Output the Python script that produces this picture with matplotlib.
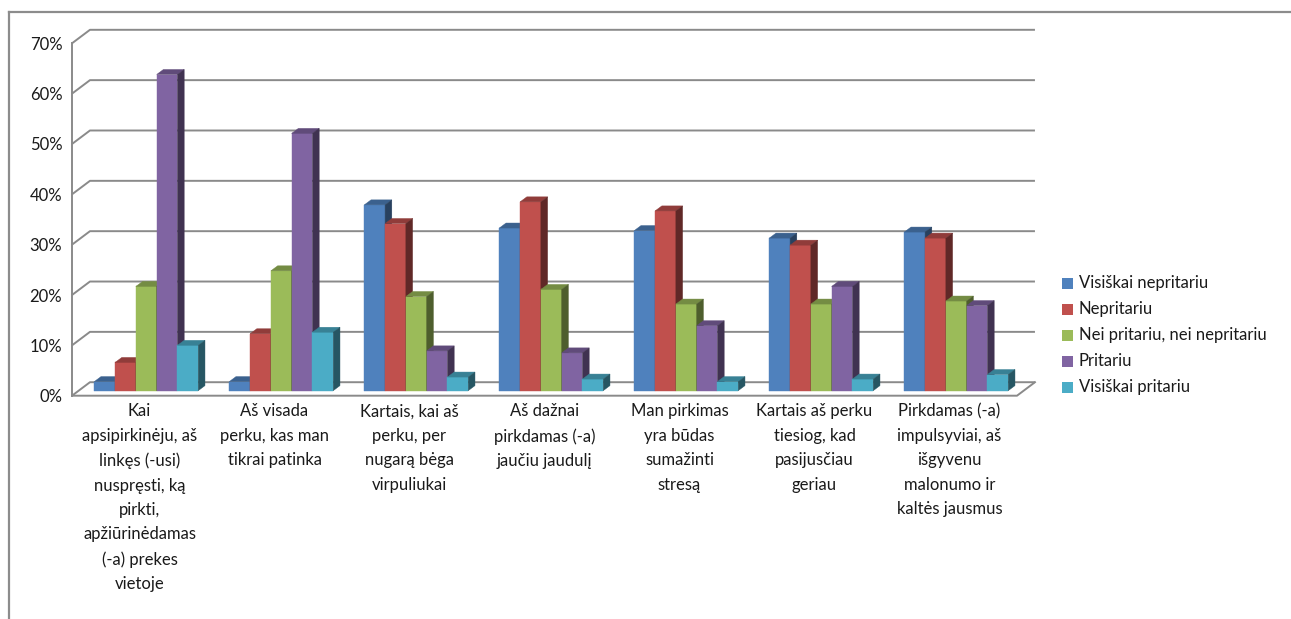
import numpy as np
import matplotlib.pyplot as plt
from matplotlib.patches import Polygon, Rectangle
from matplotlib.lines import Line2D
from matplotlib.colors import to_rgb

plt.rcParams['font.family'] = ['Lato', 'DejaVu Sans']

categories = [
    "Kai\napsipirkinėju, aš\nlinkęs (-usi)\nnuspręsti, ką\npirkti,\napžiūrinėdamas\n(-a) prekes\nvietoje",
    "Aš visada\nperku, kas man\ntikrai patinka",
    "Kartais, kai aš\nperku, per\nnugarą bėga\nvirpuliukai",
    "Aš dažnai\npirkdamas (-a)\njaučiu jaudulį",
    "Man pirkimas\nyra būdas\nsumažinti\nstresą",
    "Kartais aš perku\ntiesiog, kad\npasijusčiau\ngeriau",
    "Pirkdamas (-a)\nimpulsyviai, aš\nišgyvenu\nmalonumo ir\nkaltės jausmus",
]
series_names = ["Visiškai nepritariu", "Nepritariu", "Nei pritariu, nei nepritariu",
                "Pritariu", "Visiškai pritariu"]

visiskai_nepritariu = [1.8, 1.8, 36.9, 32.3, 31.8, 30.3, 31.5]
nepritariu = [5.6, 11.3, 33.2, 37.5, 35.7, 28.9, 30.3]
nei_nei = [20.7, 23.8, 18.7, 20.1, 17.2, 17.2, 17.8]
pritariu = [62.8, 51.1, 7.9, 7.5, 12.9, 20.7, 16.9]
visiskai_pritariu = [9.0, 11.6, 2.7, 2.3, 1.8, 2.3, 3.2]

series = [visiskai_nepritariu, nepritariu, nei_nei, pritariu, visiskai_pritariu]
colors = ["#4F81BD", "#C0504D", "#9BBB59", "#8064A2", "#4BACC6"]
yticks = [0, 10, 20, 30, 40, 50, 60, 70]

W, H = 1291, 619
fig = plt.figure(figsize=(W / 100, H / 100), dpi=100)
ax = fig.add_axes([72 / W, 1 - 395.7 / H, 945 / W, 352.4 / H])
n = len(categories)
ax.set_xlim(0, n)
ax.set_ylim(0, 70)

# fake 3d: offsets of the back wall and of the bar depth (data units)
back_dx, back_dy = 0.133, 2.68
bar_dx, bar_dy = 0.05, 1.0
d_dx, d_dy = 0.05, 1.0
gap = 0.115
w = (1 - 2 * gap) / 5

grid_col = "#8a8a8a"
for v in yticks:
    ax.plot([0, back_dx, n + back_dx], [v, v + back_dy, v + back_dy],
            color=grid_col, lw=1.4, clip_on=False, zorder=1, solid_capstyle='butt')
# floor front edge
ax.plot([0, n, n + back_dx], [0, 0, back_dy], color=grid_col, lw=1.4,
        clip_on=False, zorder=1)


def shade(c, f):
    r, g, b = to_rgb(c)
    return (r * f, g * f, b * f)


x_base = np.arange(n)
for j, (vals, c) in enumerate(zip(series, colors)):
    x0 = x_base + gap + j * w + bar_dx
    z = 3 + 2 * j
    ax.bar(x0, vals, width=w, bottom=bar_dy, align='edge', color=c,
           edgecolor=c, linewidth=0.3, zorder=z, clip_on=False)
    for xi, v in zip(x0, vals):
        top = bar_dy + v
        ax.add_patch(Polygon([(xi, top), (xi + w, top), (xi + w + d_dx, top + d_dy),
                              (xi + d_dx, top + d_dy)], closed=True,
                             facecolor=shade(c, 0.75), edgecolor=shade(c, 0.75),
                             lw=0.3, zorder=z, clip_on=False))
        ax.add_patch(Polygon([(xi + w, bar_dy), (xi + w + d_dx, bar_dy + d_dy),
                              (xi + w + d_dx, top + d_dy), (xi + w, top)], closed=True,
                             facecolor=shade(c, 0.5), edgecolor=shade(c, 0.5),
                             lw=0.3, zorder=z, clip_on=False))

for i, lab in enumerate(categories):
    ax.text(i + 0.5, -1.5, lab, ha='center', va='top', fontsize=12,
            linespacing=1.65, color="#1a1a1a", multialignment='center')

ax.set_xticks([])
ax.set_yticks(yticks)
ax.set_yticklabels([f"{v}%" for v in yticks], fontsize=12, color="#1a1a1a")
ax.tick_params(axis='y', length=0, pad=7)
for s in ['top', 'right', 'bottom']:
    ax.spines[s].set_visible(False)
ax.spines['left'].set_color(grid_col)
ax.spines['left'].set_linewidth(1.4)
ax.patch.set_visible(False)

# legend
leg_y = [283, 309, 335, 361, 387]
for name, c, py in zip(series_names, colors, leg_y):
    fig.patches.append(Rectangle((1062 / W, 1 - (py + 5.5) / H), 11 / W, 11 / H,
                                 transform=fig.transFigure, facecolor=c, edgecolor='none'))
    fig.text(1079 / W, 1 - py / H, name, ha='left', va='center', fontsize=12,
             color="#1a1a1a")

# chart frame
fig.add_artist(Line2D([9 / W, 9 / W], [0, 1 - 12 / H], color="#8c8c8c", lw=1.6,
                      transform=fig.transFigure))
fig.add_artist(Line2D([9 / W, 1], [1 - 12 / H, 1 - 12 / H], color="#8c8c8c", lw=1.6,
                      transform=fig.transFigure))

fig.savefig("out.png", dpi=100, facecolor='white')
